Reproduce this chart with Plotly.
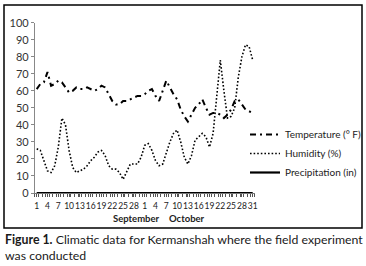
import plotly.graph_objects as go

sep_days = list(range(1, 31))
oct_days = list(range(1, 32))
days = [f"S{d}" for d in sep_days] + [f"O{d}" for d in oct_days]
tick_labels = [str(d) for d in sep_days] + [str(d) for d in oct_days]

temperature = [61, 64, 65, 71, 63, 64, 66, 65, 62, 59, 60, 62, 61, 61, 62, 61, 60, 61, 63, 62,
               58, 54, 52, 52, 54, 54, 55, 56, 57, 57,
               58, 60, 61, 57, 54, 60, 66, 62, 58, 55, 49, 45, 42, 46, 50, 52, 55, 50, 46, 47,
               47, 46, 44, 46, 49, 54, 55, 52, 49, 48, 47]
humidity = [26, 25, 19, 13, 12, 16, 27, 44, 40, 25, 15, 12, 13, 14, 16, 19, 21, 24, 25, 22,
            16, 14, 14, 12, 8, 13, 17, 17, 17, 21,
            28, 29, 25, 19, 16, 17, 24, 30, 35, 37, 30, 21, 17, 22, 31, 33, 35, 33, 27, 35,
            55, 78, 60, 44, 45, 50, 68, 80, 87, 86, 78]
precipitation = [0] * 61

idx = list(range(len(days)))
show_every = [i for i in idx if (i < 30 and i % 3 == 0) or (i >= 30 and (i - 30) % 3 == 0)]

W, H = 366, 266
def px(x):
    return x / W
def py(y):
    return (H - y) / H

fig = go.Figure()
fig.add_trace(go.Scatter(x=idx, y=temperature, mode="lines", name="Temperature (° F)",
                         line=dict(color="black", width=2, dash="6px,4px,2px,4px")))
fig.add_trace(go.Scatter(x=idx, y=humidity, mode="lines", name="Humidity (%)",
                         line=dict(color="black", width=1.6, dash="1.6px,2px")))
fig.add_trace(go.Scatter(x=idx, y=precipitation, mode="lines", name="Precipitation (in)",
                         line=dict(color="black", width=2.2)))

fig.update_layout(
    template="none",
    width=W, height=H,
    margin=dict(l=0, r=0, t=0, b=0, pad=0, autoexpand=False),
    paper_bgcolor="white", plot_bgcolor="white",
    font=dict(family="Lato", color="#222222", size=10),
    showlegend=True,
    legend=dict(x=px(245), y=py(120), xanchor="left", yanchor="top",
                font=dict(size=10, color="#222222"), bgcolor="rgba(0,0,0,0)",
                itemwidth=30, tracegroupgap=0, borderwidth=0),
    xaxis=dict(domain=[px(34.9), px(254.5)], range=[-0.5, 60.5], automargin=False,
               tickmode="array", tickvals=[i for i in show_every],
               ticktext=[tick_labels[i] for i in show_every],
               ticks="outside", ticklen=3, tickcolor="#555555",
               minor=dict(dtick=1, tick0=0.5, ticks="outside", ticklen=3, tickcolor="#555555"),
               showline=True, linecolor="#777777", linewidth=1,
               showgrid=False, zeroline=False, ticklabelstandoff=2,
               tickfont=dict(size=8.5, color="#222222"), tickangle=0),
    yaxis=dict(domain=[py(193), py(22.7)], range=[0, 100], dtick=10, automargin=False,
               ticks="outside", ticklen=3, tickcolor="#888888",
               showline=True, linecolor="#888888", linewidth=1,
               showgrid=False, zeroline=False,
               tickfont=dict(size=11, color="#333333")),
)

fig.add_shape(type="rect", xref="paper", yref="paper",
              x0=px(4), x1=px(362), y0=py(228), y1=py(5),
              line=dict(color="black", width=1.5))

fig.add_annotation(text="<b>September</b>", xref="paper", yref="paper",
                   x=px(111), y=py(218), yanchor="middle", showarrow=False,
                   font=dict(size=9.5, color="#222222"))
fig.add_annotation(text="<b>October</b>", xref="paper", yref="paper",
                   x=px(187), y=py(218), yanchor="middle", showarrow=False,
                   font=dict(size=9.5, color="#222222"))

fig.add_annotation(text="<b>Figure 1.</b> Climatic data for Kermanshah where the field experiment<br>was conducted",
                   xref="paper", yref="paper", x=px(3), y=py(230),
                   xanchor="left", yanchor="top", align="left", showarrow=False,
                   font=dict(size=12.3, color="#1a1a1a", family="Lato"))

fig.write_html("out.html", config={"displayModeBar": False},
               post_script="document.body.style.margin='0';document.body.style.padding='0';document.documentElement.style.overflow='hidden';")
